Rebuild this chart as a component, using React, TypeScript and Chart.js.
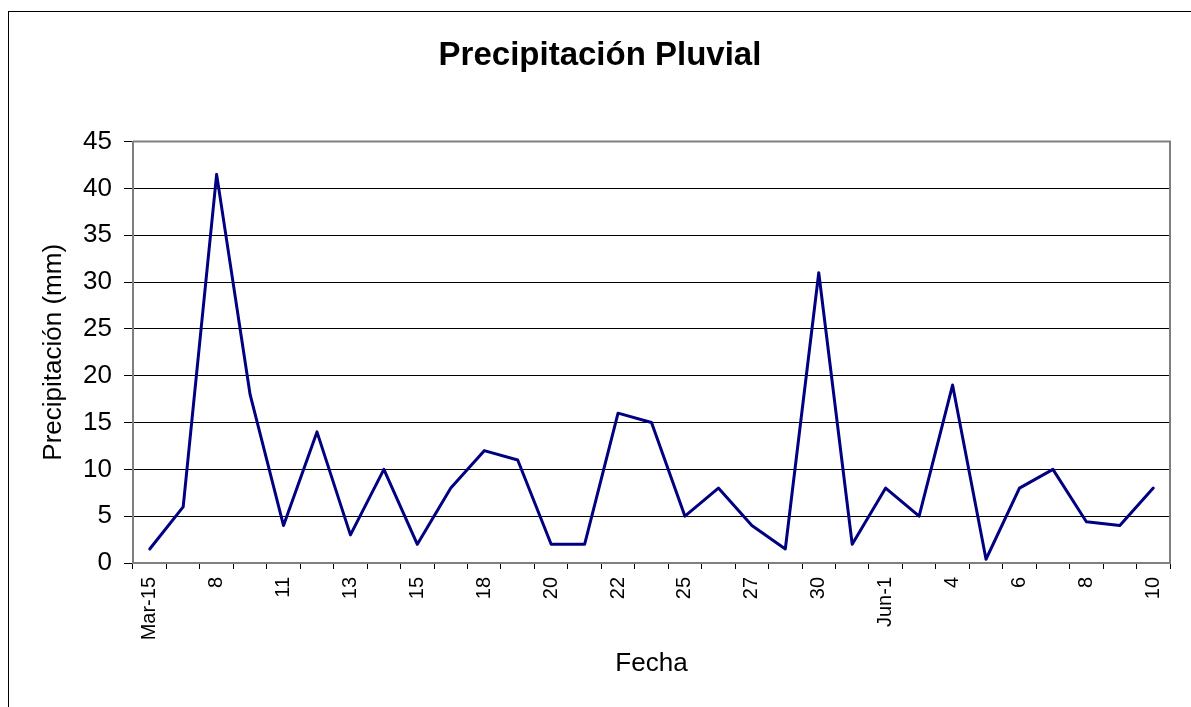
import React, { useEffect, useRef } from "react";
import { Chart, registerables } from "chart.js";

Chart.register(...registerables);

const categories: string[] = [
  "Mar-15", "", "8", "", "11", "", "13", "", "15", "", "18", "", "20", "", "22", "",
  "25", "", "27", "", "30", "", "Jun-1", "", "4", "", "6", "", "8", "", "10",
];

const precipitation: number[] = [
  1.5, 6, 41.5, 18, 4, 14, 3, 10, 2, 8, 12, 11, 2, 2, 16, 15,
  5, 8, 4, 1.5, 31, 2, 8, 5, 19, 0.4, 8, 10, 4.4, 4, 8,
];

const titleText = "Precipitación Pluvial";
const yTitle = "Precipitación (mm)";
const xTitle = "Fecha";
const yMin = 0;
const yMax = 45;
const yStep = 5;

const FONT = "'Liberation Sans', Arial, sans-serif";

const plotBorder = {
  id: "plotBorder",
  afterDraw(chart: any) {
    const { ctx, chartArea } = chart;
    ctx.save();
    ctx.strokeStyle = "#808080";
    ctx.lineWidth = 2;
    ctx.beginPath();
    ctx.moveTo(chartArea.left, chartArea.top);
    ctx.lineTo(chartArea.right, chartArea.top);
    ctx.lineTo(chartArea.right, chartArea.bottom);
    ctx.stroke();
    ctx.restore();
  },
};

export default function App() {
  const ref = useRef<HTMLCanvasElement | null>(null);

  useEffect(() => {
    document.documentElement.style.overflow = "hidden";
    document.body.style.overflow = "hidden";
    if (!ref.current) return;
    const chart = new Chart(ref.current, {
      type: "line",
      data: {
        labels: categories,
        datasets: [
          {
            data: precipitation,
            borderColor: "#000080",
            borderWidth: 3,
            borderJoinStyle: "round",
            borderCapStyle: "round",
            pointRadius: 0,
            tension: 0,
            fill: false,
          },
        ],
      },
      options: {
        responsive: false,
        animation: false,
        devicePixelRatio: 1,
        layout: { padding: { left: 21, right: 21, top: 0, bottom: 0 } },
        plugins: {
          legend: { display: false },
          tooltip: { enabled: false },
          title: {
            display: true,
            text: titleText,
            color: "#000",
            font: { family: FONT, size: 33, weight: "bold" },
            padding: { top: 24, bottom: 66 },
          },
        },
        scales: {
          x: {
            type: "category",
            offset: true,
            grid: {
              offset: true,
              drawOnChartArea: false,
              drawTicks: true,
              tickLength: 6,
              color: "#000",
            },
            border: { display: true, color: "#808080", width: 2 },
            ticks: {
              autoSkip: false,
              minRotation: 90,
              maxRotation: 90,
              padding: 8,
              color: "#000",
              font: { family: FONT, size: 20 },
            },
            title: {
              display: true,
              text: xTitle,
              color: "#000",
              font: { family: FONT, size: 26 },
              padding: { top: 0, bottom: 28 },
            },
            afterFit(scale: any) {
              scale.height = 144;
            },
          },
          y: {
            min: yMin,
            max: yMax,
            grid: {
              color: "#000",
              lineWidth: 1,
              drawTicks: true,
              tickLength: 9,
            },
            border: { display: true, color: "#808080", width: 2 },
            ticks: {
              stepSize: yStep,
              padding: 12,
              color: "#000",
              font: { family: FONT, size: 26 },
            },
            title: {
              display: true,
              text: yTitle,
              color: "#000",
              font: { family: FONT, size: 26 },
              padding: { top: 8, bottom: 0 },
            },
            afterFit(scale: any) {
              scale.width = 103;
            },
          },
        },
      },
      plugins: [plotBorder],
    } as any);
    return () => chart.destroy();
  }, []);

  return (
    <div
      style={{
        position: "absolute",
        left: 8,
        top: 11,
        width: 1200,
        height: 720,
        border: "1px solid #000",
        background: "#fff",
      }}
    >
      <canvas ref={ref} width={1182} height={695} style={{ display: "block" }} />
    </div>
  );
}
